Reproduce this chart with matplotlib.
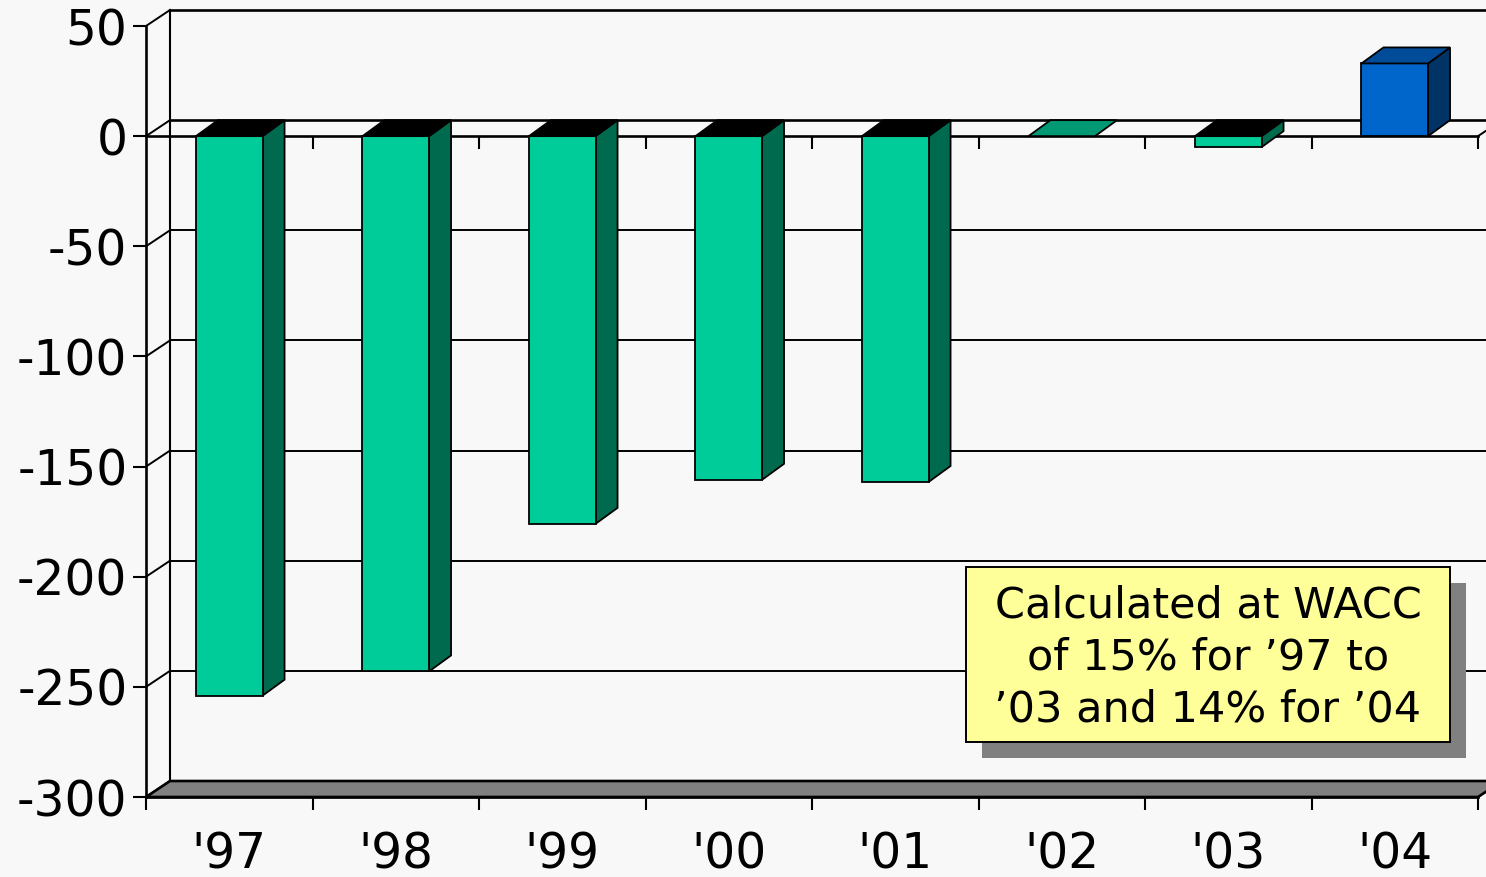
import numpy as np
import matplotlib.pyplot as plt
from matplotlib.patches import Polygon, Rectangle

# ----------------------- DATA -----------------------
years    = ["'97", "'98", "'99", "'00", "'01", "'02", "'03", "'04"]
values   = [-254, -243, -176, -156, -157, 0, -5, 33]
y_ticks  = [50, 0, -50, -100, -150, -200, -250, -300]
y_labels = ["50", "0", "-50", "-100", "-150", "-200", "-250", "-300"]
note     = "Calculated at WACC\nof 15% for \u201997 to\n\u201903 and 14% for \u201904"
# ----------------------------------------------------

W, H = 1486, 877
bg = "#F8F8F8"
green_front, green_side, green_top = "#00CC99", "#006A4E", "#009973"
blue_front, blue_side, blue_top = "#0066CC", "#003366", "#004C99"

fig = plt.figure(figsize=(W / 100, H / 100), dpi=100, facecolor=bg)
# front plane of the 3-D box in pixels: x 146..1478, y 26..797
ax = fig.add_axes([146 / W, (H - 797) / H, 1332 / W, 771 / H])
ax.patch.set_visible(False)
n = len(years)
ymin, ymax = min(y_ticks), max(y_ticks)
ax.set_xlim(0, n)
ax.set_ylim(ymin, ymax)

# depth offsets (pixels -> data units)
px_x = 1332 / n
px_y = 771 / (ymax - ymin)
dxw, dyw = 24 / px_x, 16 / px_y      # walls
dxb, dyb = 22 / px_x, 16 / px_y      # bars

lw = 1.5
kw = dict(color="black", clip_on=False)

# back wall gridlines + left wall diagonals
for t in y_ticks:
    ax.plot([dxw, n + dxw], [t + dyw, t + dyw], lw=1.4 if t not in (0, ymax) else 1.9, zorder=1, **kw)
    ax.plot([0, dxw], [t, t + dyw], lw=1.4, zorder=1, **kw)
ax.plot([dxw, dxw], [ymin + dyw, ymax + dyw], lw=lw, zorder=1, **kw)

# floor
floor = Polygon([(0, ymin), (n, ymin), (n + dxw, ymin + dyw), (dxw, ymin + dyw)],
                closed=True, facecolor="#808080", edgecolor="black", lw=1.9,
                zorder=2, clip_on=False)
ax.add_patch(floor)

# zero line on the front with ticks
ax.plot([0, n], [0, 0], lw=1.9, zorder=2, **kw)
ax.plot([n, n + dxw], [0, dyw], lw=1.4, zorder=2, **kw)
ax.vlines(np.arange(1, n + 1), -13 / px_y, 0, lw=lw, zorder=2, **kw)

# bars
bw = 0.4
for i, v in enumerate(values):
    x0 = i + 0.5 - bw / 2
    x1 = x0 + bw
    lo, hi = min(v, 0), max(v, 0)
    if v > 0:
        fc, sc, tc = blue_front, blue_side, blue_top
    else:
        fc, sc, tc = green_front, green_side, (green_top if v == 0 else "black")
    if hi > lo:
        ax.add_patch(Polygon([(x1, lo), (x1 + dxb, lo + dyb), (x1 + dxb, hi + dyb), (x1, hi)],
                             closed=True, facecolor=sc, edgecolor="black", lw=1.3,
                             zorder=3, clip_on=False))
        ax.add_patch(Rectangle((x0, lo), bw, hi - lo, facecolor=fc, edgecolor="black",
                               lw=1.3, zorder=3, clip_on=False))
    ax.add_patch(Polygon([(x0, hi), (x1, hi), (x1 + dxb, hi + dyb), (x0 + dxb, hi + dyb)],
                         closed=True, facecolor=tc, edgecolor="black", lw=1.3,
                         zorder=3, clip_on=False))

# axes, ticks
for s in ("top", "right"):
    ax.spines[s].set_visible(False)
for s in ("left", "bottom"):
    ax.spines[s].set_linewidth(1.9)
    ax.spines[s].set_zorder(4)

ax.set_yticks(y_ticks)
ax.set_yticklabels(y_labels)
ax.tick_params(axis="y", length=9.4, width=lw, pad=4, labelsize=35)

ax.set_xticks(np.arange(n + 1))
ax.set_xticklabels([])
ax.set_xticks(np.arange(n) + 0.5, minor=True)
ax.set_xticklabels(years, minor=True)
ax.tick_params(axis="x", which="major", length=9.4, width=lw)
ax.tick_params(axis="x", which="minor", length=0, pad=24, labelsize=35)

# note box with shadow
bx, by, bwid, bht = 0.6156, 0.0713, 0.3634, 0.227
ax.add_patch(Rectangle((bx + 0.012, by - 0.0208), bwid, bht, transform=ax.transAxes,
                       facecolor="#808080", edgecolor="none", zorder=5, clip_on=False))
ax.add_patch(Rectangle((bx, by), bwid, bht, transform=ax.transAxes,
                       facecolor="#FFFF99", edgecolor="black", lw=1.4, zorder=6, clip_on=False))
ax.text(bx + bwid / 2, by + bht / 2 - 0.004, note, transform=ax.transAxes, ha="center",
        va="center", multialignment="center", fontsize=31, linespacing=1.3, zorder=7)

fig.savefig("out.png", dpi=100, facecolor=bg)
